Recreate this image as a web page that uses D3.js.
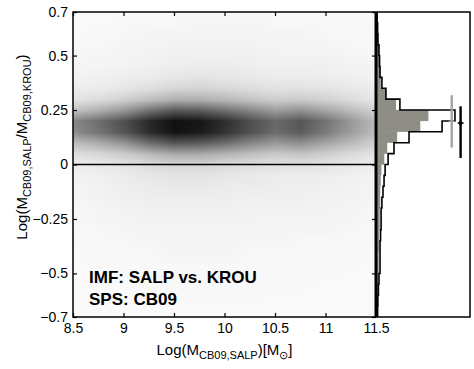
<!DOCTYPE html>
<html>
<head>
<meta charset="utf-8">
<script src="https://cdn.jsdelivr.net/npm/d3@7"></script>
<style>
  body { margin: 0; background: #fff; }
  text { font-family: "Liberation Sans", Arial, sans-serif; fill: #000; }
</style>
</head>
<body>
<script>
// axis ticks
var xTicks = [8.5, 9, 9.5, 10, 10.5, 11, 11.5];
var yTicks = [-0.7, -0.5, -0.25, 0, 0.25, 0.5, 0.7];

// density map grid (darkness 0-100), columns = log mass, rows = log ratio (top to bottom)
var gridX = [8.5, 8.75, 9, 9.25, 9.5, 9.75, 10, 10.25, 10.5, 10.75, 11, 11.25, 11.5];
var gridY = [0.7, 0.65, 0.6, 0.55, 0.5, 0.45, 0.4, 0.35, 0.3, 0.25, 0.2, 0.15, 0.1, 0.05, 0,
             -0.05, -0.1, -0.15, -0.2, -0.25, -0.3, -0.35, -0.4, -0.45, -0.5, -0.55, -0.6, -0.65, -0.7];
var density = [
  [2, 2, 2, 3, 3, 3, 3, 3, 3, 3, 3, 2, 2],
  [2, 2, 3, 3, 3, 4, 4, 4, 3, 3, 3, 3, 2],
  [2, 3, 3, 4, 4, 4, 4, 4, 4, 4, 3, 3, 3],
  [3, 3, 4, 4, 5, 5, 5, 5, 4, 4, 4, 3, 3],
  [3, 4, 4, 5, 6, 6, 6, 6, 5, 5, 5, 4, 3],
  [4, 4, 5, 6, 7, 8, 8, 7, 6, 6, 6, 5, 4],
  [5, 6, 7, 8, 10, 11, 10, 9, 8, 8, 7, 6, 5],
  [7, 8, 10, 13, 17, 18, 16, 14, 12, 12, 11, 9, 7],
  [11, 14, 19, 26, 32, 32, 29, 24, 20, 21, 18, 14, 10],
  [24, 32, 42, 57, 68, 66, 58, 49, 40, 44, 36, 27, 18],
  [50, 60, 72, 89, 98, 96, 86, 73, 62, 70, 57, 42, 27],
  [47, 57, 70, 87, 97, 94, 84, 71, 60, 67, 54, 40, 26],
  [27, 34, 44, 60, 70, 68, 60, 50, 42, 46, 37, 28, 19],
  [13, 16, 21, 29, 35, 35, 31, 26, 22, 24, 20, 15, 11],
  [7, 9, 11, 14, 17, 17, 15, 13, 12, 12, 11, 9, 7],
  [5, 6, 8, 10, 11, 11, 10, 9, 8, 8, 7, 6, 5],
  [4, 5, 7, 8, 9, 9, 8, 8, 7, 7, 6, 5, 4],
  [4, 5, 6, 7, 7, 7, 7, 6, 6, 6, 5, 5, 4],
  [3, 4, 5, 6, 6, 6, 6, 5, 5, 5, 5, 4, 3],
  [3, 4, 4, 5, 5, 5, 5, 5, 4, 4, 4, 4, 3],
  [3, 3, 4, 4, 4, 4, 4, 4, 4, 4, 4, 3, 3],
  [3, 3, 3, 4, 4, 4, 4, 4, 4, 3, 3, 3, 3],
  [2, 3, 3, 3, 4, 4, 4, 3, 3, 3, 3, 3, 2],
  [2, 3, 3, 3, 3, 3, 3, 3, 3, 3, 3, 3, 2],
  [2, 2, 3, 3, 3, 3, 3, 3, 3, 3, 3, 2, 2],
  [2, 2, 2, 3, 3, 3, 3, 3, 3, 3, 2, 2, 2],
  [2, 2, 2, 2, 3, 3, 3, 3, 2, 2, 2, 2, 2],
  [2, 2, 2, 2, 2, 2, 2, 2, 2, 2, 2, 2, 2],
  [2, 2, 2, 2, 2, 2, 2, 2, 2, 2, 2, 2, 2]
];

// side histograms, bins of 0.05 from -0.7 upward
var binLow = d3.range(28).map(function(i){ return -0.7 + i * 0.05; });
var histBlack = [0.006, 0.007, 0.009, 0.011, 0.015, 0.015, 0.015, 0.017, 0.019, 0.019,
                 0.022, 0.026, 0.030, 0.034, 0.045, 0.067, 0.123, 0.246, 0.294, 0.089,
                 0.037, 0.022, 0.015, 0.013, 0.011, 0.007, 0.006, 0.004];
var histGray = [0.004, 0.006, 0.007, 0.007, 0.009, 0.009, 0.011, 0.011, 0.013, 0.013,
                0.015, 0.015, 0.017, 0.019, 0.030, 0.041, 0.078, 0.164, 0.194, 0.074,
                0.037, 0.017, 0.015, 0.015, 0.011, 0.009, 0.006, 0.004];

// error bars (position in histogram units, mean, low, high)
var errGray = {pos: 0.282, mean: 0.198, lo: 0.078, hi: 0.318};
var errBlack = {pos: 0.315, mean: 0.19, lo: 0.03, hi: 0.267};

var width = 474, height = 369;
var mLeft = 73, mTop = 12, mainW = 303, plotH = 305, histW = 94;

var svg = d3.select("body").append("svg")
    .attr("width", width)
    .attr("height", height);

var x = d3.scaleLinear().domain([8.5, 11.5]).range([mLeft, mLeft + mainW]);
var y = d3.scaleLinear().domain([-0.7, 0.7]).range([mTop + plotH, mTop]);
var hx = d3.scaleLinear().domain([0, 0.35]).range([mLeft + mainW, mLeft + mainW + histW]);

// density image
var canvas = document.createElement("canvas");
canvas.width = gridX.length;
canvas.height = gridY.length;
var ctx = canvas.getContext("2d");
var img = ctx.createImageData(canvas.width, canvas.height);
var shade = d3.scaleLinear().domain([0, 100]).range([255, 12]);
density.forEach(function(row, j){
    row.forEach(function(v, i){
        var g = Math.round(shade(v));
        var k = (j * canvas.width + i) * 4;
        img.data[k] = g; img.data[k + 1] = g; img.data[k + 2] = g; img.data[k + 3] = 255;
    });
});
ctx.putImageData(img, 0, 0);

svg.append("clipPath").attr("id", "clipMain")
  .append("rect")
    .attr("x", mLeft).attr("y", mTop)
    .attr("width", mainW).attr("height", plotH);

var dx = (gridX[1] - gridX[0]) / 2, dy = (gridY[0] - gridY[1]) / 2;
svg.append("image")
    .attr("clip-path", "url(#clipMain)")
    .attr("href", canvas.toDataURL())
    .attr("preserveAspectRatio", "none")
    .attr("x", x(gridX[0] - dx))
    .attr("y", y(gridY[0] + dy))
    .attr("width", x(gridX[gridX.length - 1] + dx) - x(gridX[0] - dx))
    .attr("height", y(gridY[gridY.length - 1] - dy) - y(gridY[0] + dy));

// zero line
svg.append("line")
    .attr("x1", x(8.5)).attr("x2", x(11.5))
    .attr("y1", y(0)).attr("y2", y(0))
    .attr("stroke", "#000").attr("stroke-width", 1.6);

// histogram: gray filled
svg.selectAll(".hgray")
    .data(histGray)
    .enter()
    .append("rect")
    .attr("class", "hgray")
    .attr("x", hx(0))
    .attr("y", function(d, i){ return y(binLow[i] + 0.05); })
    .attr("width", function(d){ return hx(d) - hx(0); })
    .attr("height", function(d, i){ return y(binLow[i]) - y(binLow[i] + 0.05); })
    .attr("fill", "#8e8e87")
    .attr("stroke", "#8e8e87")
    .attr("stroke-width", 0.4);

// histogram: black outline
var pts = [];
histBlack.forEach(function(d, i){
    pts.push([hx(d), y(binLow[i])]);
    pts.push([hx(d), y(binLow[i] + 0.05)]);
});
svg.append("path")
    .attr("d", d3.line()(pts))
    .attr("fill", "none")
    .attr("stroke", "#000")
    .attr("stroke-width", 1.6);

// error bars
function errorBar(e, color, dot){
    var g = svg.append("g");
    g.append("line")
        .attr("x1", hx(e.pos)).attr("x2", hx(e.pos))
        .attr("y1", y(e.lo)).attr("y2", y(e.hi))
        .attr("stroke", color).attr("stroke-width", 2.4);
    g.append("line")
        .attr("x1", hx(e.pos) - 3).attr("x2", hx(e.pos) + 3)
        .attr("y1", y(e.mean)).attr("y2", y(e.mean))
        .attr("stroke", color).attr("stroke-width", 1.4);
    if (dot) {
        g.append("circle")
            .attr("cx", hx(e.pos)).attr("cy", y(e.mean)).attr("r", 2)
            .attr("fill", color);
    }
}
errorBar(errGray, "#a3a3a0", false);
errorBar(errBlack, "#000", true);

// axes (ticks inward, mirrored)
var fmt = d3.format("");
svg.append("g")
    .attr("transform", "translate(" + mLeft + ",0)")
    .call(d3.axisLeft(y).tickValues(yTicks).tickFormat(fmt).tickSizeInner(-4).tickSizeOuter(0).tickPadding(5))
    .call(function(g){ g.select(".domain").remove(); })
    .selectAll("text").style("font-size", "14px");
svg.append("g")
    .attr("transform", "translate(" + (mLeft + mainW) + ",0)")
    .call(d3.axisRight(y).tickValues(yTicks).tickFormat("").tickSizeInner(-4).tickSizeOuter(0))
    .call(function(g){ g.select(".domain").remove(); });
svg.append("g")
    .attr("transform", "translate(0," + (mTop + plotH) + ")")
    .call(d3.axisBottom(x).tickValues(xTicks).tickFormat(fmt).tickSizeInner(-4).tickSizeOuter(0).tickPadding(6))
    .call(function(g){ g.select(".domain").remove(); })
    .selectAll("text").style("font-size", "14px");
svg.append("g")
    .attr("transform", "translate(0," + mTop + ")")
    .call(d3.axisTop(x).tickValues(xTicks).tickFormat("").tickSizeInner(-4).tickSizeOuter(0))
    .call(function(g){ g.select(".domain").remove(); });
svg.selectAll(".tick line").attr("stroke", "#000").attr("stroke-width", 1.2);

// frames
svg.append("rect")
    .attr("x", mLeft).attr("y", mTop)
    .attr("width", mainW + histW).attr("height", plotH)
    .attr("fill", "none").attr("stroke", "#000").attr("stroke-width", 1.5);
svg.append("line")
    .attr("x1", x(11.5)).attr("x2", x(11.5))
    .attr("y1", mTop).attr("y2", mTop + plotH)
    .attr("stroke", "#000").attr("stroke-width", 3);

// labels
var xl = svg.append("text")
    .attr("x", mLeft + mainW / 2).attr("y", 355)
    .attr("text-anchor", "middle")
    .style("font-size", "15px");
xl.append("tspan").text("Log(M");
xl.append("tspan").attr("dy", 4).style("font-size", "11px").text("CB09,SALP");
xl.append("tspan").attr("dy", -4).text(")[M");
xl.append("tspan").attr("dy", 4).style("font-size", "11px").text("\u2299");
xl.append("tspan").attr("dy", -4).text("]");

var yl = svg.append("text")
    .attr("transform", "translate(27,147) rotate(-90)")
    .attr("text-anchor", "middle")
    .style("font-size", "15px");
yl.append("tspan").text("Log(M");
yl.append("tspan").attr("dy", 4).style("font-size", "11px").text("CB09,SALP");
yl.append("tspan").attr("dy", -4).text("/M");
yl.append("tspan").attr("dy", 4).style("font-size", "11px").text("CB09,KROU");
yl.append("tspan").attr("dy", -4).text(")");

svg.append("text")
    .attr("x", 89).attr("y", 283)
    .style("font-size", "17px").style("font-weight", "bold")
    .text("IMF: SALP vs. KROU");
svg.append("text")
    .attr("x", 89).attr("y", 305)
    .style("font-size", "17px").style("font-weight", "bold")
    .text("SPS: CB09");
</script>
</body>
</html>
